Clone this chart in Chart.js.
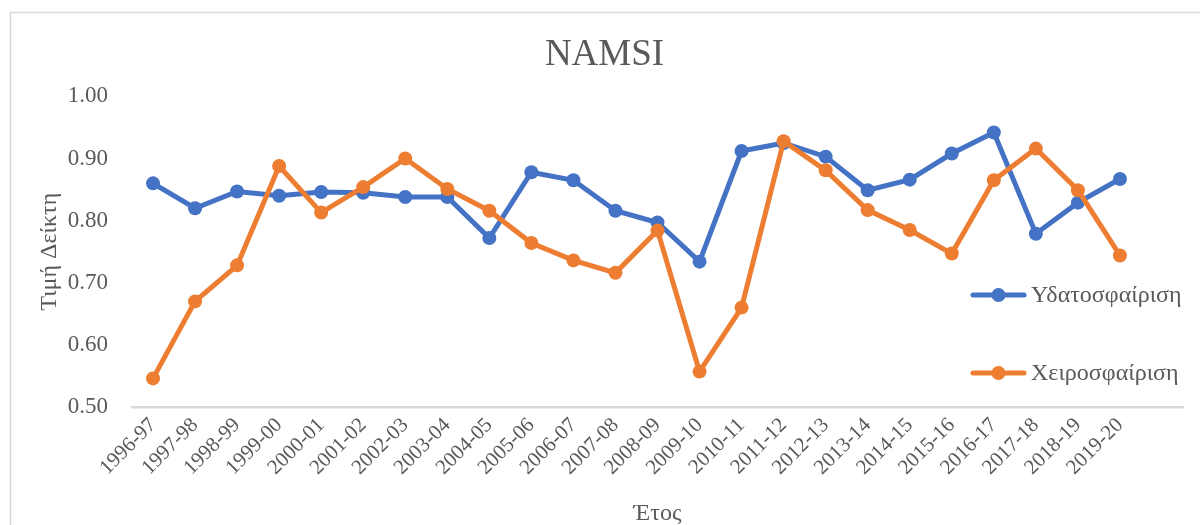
<!DOCTYPE html>
<html>
<head>
<meta charset="utf-8">
<script src="https://cdn.jsdelivr.net/npm/chart.js@4/dist/chart.umd.min.js"></script>
<style>
  body { margin: 0; background: #fff; }
  canvas { display: block; }
</style>
</head>
<body>
<canvas id="chart" width="1200" height="525"></canvas>
<script>
// seasons (last slot left empty, like the original plot area)
const seasons = ['1996-97', '1997-98', '1998-99', '1999-00', '2000-01', '2001-02', '2002-03',
  '2003-04', '2004-05', '2005-06', '2006-07', '2007-08', '2008-09', '2009-10', '2010-11',
  '2011-12', '2012-13', '2013-14', '2014-15', '2015-16', '2016-17', '2017-18', '2018-19',
  '2019-20', ''];

const waterPolo = [0.860, 0.820, 0.847, 0.840, 0.846, 0.845, 0.838, 0.838, 0.772, 0.878,
  0.865, 0.816, 0.797, 0.734, 0.912, 0.925, 0.903, 0.849, 0.866, 0.908, 0.942, 0.779,
  0.829, 0.867, null];

const handball = [0.546, 0.670, 0.728, 0.888, 0.813, 0.854, 0.900, 0.851, 0.816, 0.764,
  0.736, 0.716, 0.784, 0.557, 0.660, 0.928, 0.881, 0.817, 0.785, 0.747, 0.865, 0.916,
  0.849, 0.744, null];

const seriesNames = ['Υδατοσφαίριση', 'Χειροσφαίριση'];
const seriesColors = ['#4472C4', '#ED7D31'];

const serif = "'Liberation Serif', 'Times New Roman', serif";
const grey = '#595959';

// outer frame of the chart
const framePlugin = {
  id: 'frame',
  beforeDraw(chart) {
    const ctx = chart.ctx;
    ctx.save();
    ctx.fillStyle = '#fff';
    ctx.fillRect(0, 0, chart.width, chart.height);
    ctx.strokeStyle = '#d9d9d9';
    ctx.lineWidth = 1.5;
    ctx.beginPath();
    ctx.moveTo(10.5, chart.height);
    ctx.lineTo(10.5, 12.5);
    ctx.lineTo(chart.width, 12.5);
    ctx.stroke();
    ctx.restore();
  }
};

// legend drawn over the right part of the plot, as in the original
const sideLegend = {
  id: 'sideLegend',
  afterDraw(chart) {
    const ctx = chart.ctx;
    const rows = [295, 373];
    ctx.save();
    chart.data.datasets.forEach((ds, i) => {
      const y = rows[i];
      ctx.strokeStyle = ds.borderColor;
      ctx.lineWidth = 5;
      ctx.lineCap = 'round';
      ctx.beginPath();
      ctx.moveTo(973, y);
      ctx.lineTo(1024, y);
      ctx.stroke();
      ctx.fillStyle = ds.borderColor;
      ctx.beginPath();
      ctx.arc(998.5, y, 7, 0, Math.PI * 2);
      ctx.fill();
      ctx.fillStyle = grey;
      ctx.font = '24px ' + serif;
      ctx.textAlign = 'left';
      ctx.textBaseline = 'middle';
      ctx.fillText(ds.label, 1031, y + 1);
    });
    ctx.restore();
  }
};

new Chart(document.getElementById('chart'), {
  type: 'line',
  data: {
    labels: seasons,
    datasets: [
      {
        label: seriesNames[0],
        data: waterPolo,
        borderColor: seriesColors[0],
        backgroundColor: seriesColors[0],
        borderWidth: 5,
        pointRadius: 7,
        pointBorderWidth: 0,
        pointHoverRadius: 7,
        order: 2,
      },
      {
        label: seriesNames[1],
        data: handball,
        borderColor: seriesColors[1],
        backgroundColor: seriesColors[1],
        borderWidth: 5,
        pointRadius: 7,
        pointBorderWidth: 0,
        pointHoverRadius: 7,
        order: 1,
      },
    ],
  },
  options: {
    responsive: false,
    animation: false,
    layout: { padding: { top: 0, left: 26, right: 17, bottom: 0 } },
    plugins: {
      legend: { display: false },
      tooltip: { enabled: false },
      title: {
        display: true,
        text: 'NAMSI',
        color: grey,
        font: { family: serif, size: 37, weight: 'normal' },
        padding: { top: 33, bottom: 19 },
      },
    },
    scales: {
      x: {
        offset: true,
        grid: { display: true, drawOnChartArea: false, drawTicks: false, color: 'transparent' },
        border: { display: true, color: '#d9d9d9', width: 2.5 },
        ticks: {
          color: grey,
          font: { family: serif, size: 21 },
          minRotation: 45,
          maxRotation: 45,
          autoSkip: false,
          padding: 6,
        },
        title: {
          display: true,
          text: 'Έτος',
          color: grey,
          font: { family: serif, size: 24 },
          padding: { top: 0, bottom: -3 },
        },
        afterFit(scale) { scale.height = 118; },
      },
      y: {
        min: 0.5,
        max: 1.0,
        grid: { display: false },
        border: { display: false },
        ticks: {
          stepSize: 0.1,
          color: grey,
          font: { family: serif, size: 23 },
          padding: 16,
          callback: (v) => v.toFixed(2),
        },
        title: {
          display: true,
          text: 'Τιμή Δείκτη',
          color: grey,
          font: { family: serif, size: 24 },
          padding: { top: 9, bottom: 0 },
        },
        afterFit(scale) { scale.width = 106; },
      },
    },
  },
  plugins: [framePlugin, sideLegend],
});
</script>
</body>
</html>
